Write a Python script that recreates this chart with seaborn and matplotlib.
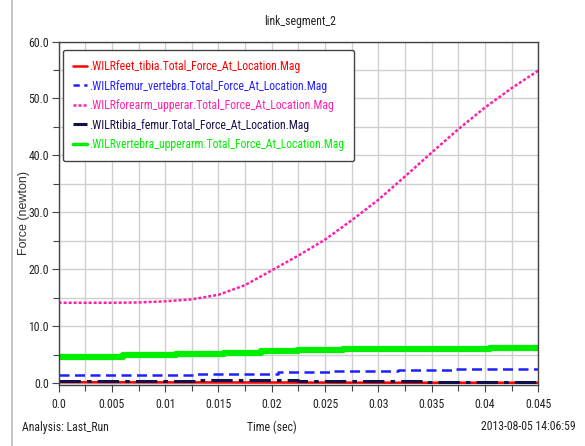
import matplotlib
matplotlib.use("Agg")
import matplotlib.pyplot as plt
from matplotlib.lines import Line2D
from matplotlib import font_manager
import seaborn as sns
import pandas as pd

# ---- data ----
t_pink = [0.0, 0.0025, 0.005, 0.0075, 0.01, 0.0125, 0.015, 0.0175, 0.02, 0.0225,
          0.025, 0.0275, 0.03, 0.0325, 0.035, 0.0375, 0.04, 0.0425, 0.045]
forearm_upperar = [14.1, 14.1, 14.1, 14.15, 14.35, 14.7, 15.5, 17.2, 19.8, 22.4,
                   25.2, 28.6, 32.2, 36.3, 40.5, 44.6, 48.4, 51.8, 54.9]

t_green = [0.0, 0.006, 0.011, 0.0155, 0.019, 0.0225, 0.0267, 0.0405, 0.045]
vertebra_upperarm = [4.6, 4.85, 5.1, 5.35, 5.6, 5.8, 6.0, 6.2, 6.2]

t_blue = [0.0, 0.0129, 0.0206, 0.0258, 0.0318, 0.037, 0.045]
femur_vertebra = [1.4, 1.6, 1.85, 2.05, 2.25, 2.45, 2.45]

t_navy = [0.0, 0.013, 0.0225, 0.0345, 0.045]
tibia_femur = [0.4, 0.6, 0.4, 0.2, 0.2]

t_red = [0.0, 0.034, 0.045]
feet_tibia = [0.15, 0.05, 0.05]

labels = [".WILRfeet_tibia.Total_Force_At_Location.Mag",
          ".WILRfemur_vertebra.Total_Force_At_Location.Mag",
          ".WILRforearm_upperar.Total_Force_At_Location.Mag",
          ".WILRtibia_femur.Total_Force_At_Location.Mag",
          ".WILRvertebra_upperarm.Total_Force_At_Location.Mag"]

x_ticks = [0.0, 0.005, 0.01, 0.015, 0.02, 0.025, 0.03, 0.035, 0.04, 0.045]
x_ticklabels = ["0.0", "0.005", "0.01", "0.015", "0.02", "0.025", "0.03", "0.035", "0.04", "0.045"]
y_ticks = [0, 10, 20, 30, 40, 50, 60]
y_ticklabels = ["0.0", "10.0", "20.0", "30.0", "40.0", "50.0", "60.0"]

# ---- pick a narrow font if one is installed ----
available = {f.name for f in font_manager.fontManager.ttflist}
narrow_font = None
for cand in ["Liberation Sans Narrow", "Arial Narrow", "Noto Sans ExtraCondensed",
             "Roboto Condensed", "Noto Sans Condensed", "Open Sans Condensed",
             "Liberation Sans"]:
    if cand in available:
        narrow_font = cand
        break
if narrow_font is None:
    narrow_font = "DejaVu Sans"
is_real_narrow = narrow_font not in ("Liberation Sans", "DejaVu Sans")
nsize = 8.5 if is_real_narrow else 7.5

# ---- style ----
sns.set_theme(style="white")
narrow = [narrow_font, "DejaVu Sans"]
plt.rcParams["font.family"] = narrow

fig = plt.figure(figsize=(5.85, 4.46), dpi=100)
ax = fig.add_axes([58.6 / 585, 1 - 385 / 446, (538.3 - 58.6) / 585, (385 - 41.5) / 446])

colors = ["#ff0000", "#1f1fff", "#ff1fa8", "#10104a", "#00ee00"]

series = [
    (t_red, feet_tibia, dict(color=colors[0], lw=1.8, ls="-"), None),
    (t_navy, tibia_femur, dict(color=colors[3], lw=2.2, dashes=(7, 2, 1.5, 2)), "steps-post"),
    (t_blue, femur_vertebra, dict(color=colors[1], lw=1.8, dashes=(4, 2.2)), "steps-post"),
    (t_green, vertebra_upperarm, dict(color=colors[4], lw=4.5, ls="-"), "steps-post"),
    (t_pink, forearm_upperar, dict(color=colors[2], lw=1.8, dashes=(1.2, 0.8)), None),
]
for tx, vy, kw, ds in series:
    df = pd.DataFrame({"t": tx, "v": vy})
    extra = {"drawstyle": ds} if ds else {}
    sns.lineplot(data=df, x="t", y="v", ax=ax, estimator=None, sort=False, **kw, **extra)

ax.set_xlim(0, 0.045)
ax.set_ylim(-0.35, 60)
ax.set_xticks(x_ticks)
ax.set_xticklabels(x_ticklabels)
ax.set_xticks([i * 0.0025 for i in range(19)], minor=True)
ax.set_yticks(y_ticks)
ax.set_yticklabels(y_ticklabels)
ax.set_yticks([5, 15, 25, 35, 45, 55], minor=True)
ax.grid(True, which="both", color="#cfcfcf", lw=1.0)
ax.set_axisbelow(True)
ax.tick_params(which="both", direction="out", length=4, width=0.8, color="#444444",
               labelsize=nsize, labelcolor="#222222", pad=2)
ax.tick_params(axis="both", which="major", length=5)
ax.tick_params(bottom=True, left=True)
ax.tick_params(which="minor", bottom=True, left=True)
ax.tick_params(axis="x", which="major", pad=4)
for s in ax.spines.values():
    s.set_color("#444444")
    s.set_linewidth(1.0)
ax.set_xlabel("")
ax.set_ylabel("")

# legend
handles = [
    Line2D([], [], color=colors[0], lw=1.8),
    Line2D([], [], color=colors[1], lw=1.8, dashes=(2.5, 1.8)),
    Line2D([], [], color=colors[2], lw=1.8, dashes=(1.2, 0.8)),
    Line2D([], [], color=colors[3], lw=2.2, dashes=(5, 1.5, 1.2, 1.5)),
    Line2D([], [], color=colors[4], lw=2.5),
]
leg = ax.legend(handles, labels, loc="upper left",
                bbox_to_anchor=(63 / 585, 1 - 50 / 446), bbox_transform=fig.transFigure,
                borderaxespad=0, frameon=True, fancybox=True,
                handlelength=1.15, handletextpad=0.2, labelspacing=0.55,
                borderpad=0.85, prop={"family": narrow, "size": nsize})
leg.get_frame().set_edgecolor("#444444")
leg.get_frame().set_linewidth(1.0)
leg.get_frame().set_facecolor("white")
leg.get_frame().set_alpha(1)
for txt, c in zip(leg.get_texts(), colors):
    txt.set_color(c)

# figure texts
fig.text(300 / 585, 1 - 22 / 446, "link_segment_2", ha="center", va="center",
         fontsize=nsize, color="#222222", family=narrow)
fig.text(24 / 585, 1 - 213 / 446, "Force (newton)", ha="center", va="center",
         rotation=90, fontsize=9, color="#333333", family=["Liberation Sans", "DejaVu Sans"])
fig.text(22 / 585, 1 - 427 / 446, "Analysis: Last_Run", ha="left", va="center",
         fontsize=nsize, color="#222222", family=narrow)
fig.text(272 / 585, 1 - 427 / 446, "Time (sec)", ha="center", va="center",
         fontsize=nsize, color="#222222", family=narrow)
fig.text(576 / 585, 1 - 427 / 446, "2013-08-05 14:06:59", ha="right", va="center",
         fontsize=nsize, color="#222222", family=narrow)
fig.add_artist(Line2D([12.3 / 585, 12.3 / 585], [0, 1], transform=fig.transFigure,
                      color="#bbbbbb", lw=1.2))

fig.savefig("out.png", dpi=100)
